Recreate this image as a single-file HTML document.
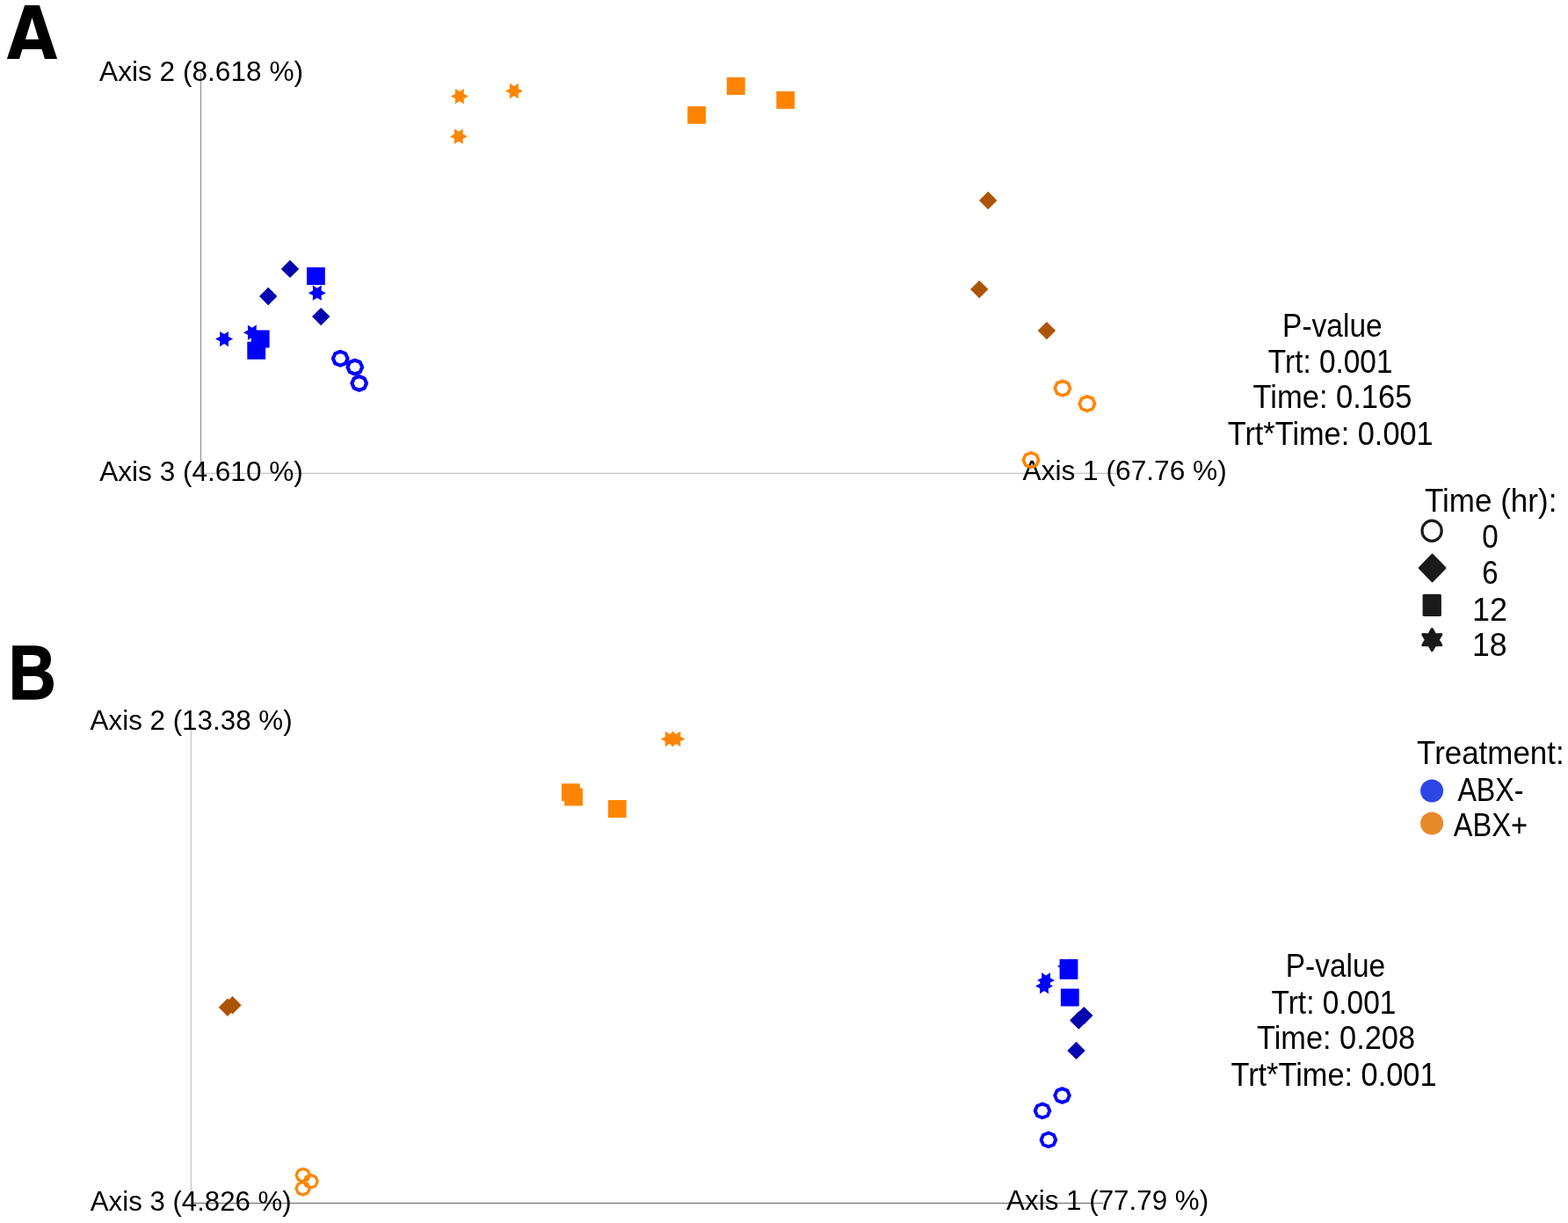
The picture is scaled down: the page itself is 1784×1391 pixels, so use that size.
<!DOCTYPE html>
<html><head><meta charset="utf-8"><title>PCoA</title>
<style>html,body{margin:0;padding:0;background:#fff;}svg{display:block;}</style></head>
<body><svg width="1784" height="1391" viewBox="0 0 1784 1391" font-family="Liberation Sans, Arial, sans-serif">
<rect width="1784" height="1391" fill="#fff"/>
<line x1="228.5" y1="83" x2="228.5" y2="538.4" stroke="#8c8c8c" stroke-width="1.1"/>
<line x1="228.5" y1="538.4" x2="1278" y2="538.4" stroke="#c4c4c4" stroke-width="1.3"/>
<line x1="217.4" y1="829" x2="217.4" y2="1368.5" stroke="#c8c8c8" stroke-width="1.5"/>
<line x1="217.4" y1="1368.5" x2="1255" y2="1368.5" stroke="#858585" stroke-width="1.4"/>
<text transform="translate(7.52 67.40) scale(0.901 1)" font-size="83.21" font-family="DejaVu Sans, sans-serif" font-weight="bold">A</text>
<text transform="translate(113.05 91.80) scale(0.989 1)" font-size="31.98">Axis 2 (8.618 %)</text>
<text transform="translate(113.21 547.10) scale(0.988 1)" font-size="31.98">Axis 3 (4.610 %)</text>
<text transform="translate(1163.53 546.40) scale(0.990 1)" font-size="31.98">Axis 1 (67.76 %)</text>
<text transform="translate(1459.05 383.10) scale(0.930 1)" font-size="36.05">P-value</text>
<text transform="translate(1442.87 423.50) scale(0.926 1)" font-size="36.05">Trt: 0.001</text>
<text transform="translate(1425.43 464.10) scale(0.958 1)" font-size="36.05">Time: 0.165</text>
<text transform="translate(1396.73 505.70) scale(0.952 1)" font-size="36.05">Trt*Time: 0.001</text>
<text transform="translate(1620.93 582.20) scale(0.972 1)" font-size="36.05">Time (hr):</text>
<text transform="translate(1686.16 623.20) scale(0.921 1)" font-size="36.05">0</text>
<text transform="translate(1686.30 664.00) scale(0.914 1)" font-size="36.05">6</text>
<text transform="translate(1674.90 705.50) scale(0.999 1)" font-size="36.05">12</text>
<text transform="translate(1674.96 746.30) scale(0.988 1)" font-size="36.05">18</text>
<text transform="translate(1612.09 869.10) scale(0.969 1)" font-size="36.05">Treatment:</text>
<text transform="translate(1658.38 910.50) scale(0.893 1)" font-size="36.05">ABX-</text>
<text transform="translate(1653.63 951.20) scale(0.905 1)" font-size="36.05">ABX+</text>
<text transform="translate(9.67 794.80) scale(0.857 1)" font-size="87.30" font-weight="bold" stroke="#000" stroke-width="1.4">B</text>
<text transform="translate(102.60 830.00) scale(0.981 1)" font-size="31.98">Axis 2 (13.38 %)</text>
<text transform="translate(102.81 1376.50) scale(0.976 1)" font-size="31.98">Axis 3 (4.826 %)</text>
<text transform="translate(1145.12 1376.40) scale(0.981 1)" font-size="31.98">Axis 1 (77.79 %)</text>
<text transform="translate(1462.76 1110.90) scale(0.928 1)" font-size="36.05">P-value</text>
<text transform="translate(1446.56 1152.50) scale(0.927 1)" font-size="36.05">Trt: 0.001</text>
<text transform="translate(1429.97 1193.40) scale(0.953 1)" font-size="36.05">Time: 0.208</text>
<text transform="translate(1400.44 1235.00) scale(0.953 1)" font-size="36.05">Trt*Time: 0.001</text>
<polygon points="532.90,109.60 527.66,106.85 527.90,100.94 522.90,104.10 517.90,100.94 518.14,106.85 512.90,109.60 518.14,112.35 517.90,118.26 522.90,115.10 527.90,118.26 527.66,112.35" fill="#ff8500"/>
<polygon points="594.90,103.50 589.66,100.75 589.90,94.84 584.90,98.00 579.90,94.84 580.14,100.75 574.90,103.50 580.14,106.25 579.90,112.16 584.90,109.00 589.90,112.16 589.66,106.25" fill="#ff8500"/>
<polygon points="531.80,155.20 526.56,152.45 526.80,146.54 521.80,149.70 516.80,146.54 517.04,152.45 511.80,155.20 517.04,157.95 516.80,163.86 521.80,160.70 526.80,163.86 526.56,157.95" fill="#ff8500"/>
<rect x="782.20" y="120.80" width="20.80" height="20.00" fill="#ff8500"/>
<rect x="826.90" y="87.90" width="20.80" height="20.00" fill="#ff8500"/>
<rect x="883.30" y="103.80" width="20.80" height="20.00" fill="#ff8500"/>
<polygon points="1124.20,217.80 1134.40,228.00 1124.20,238.20 1114.00,228.00" fill="#ad5404"/>
<polygon points="1114.20,318.90 1124.40,329.10 1114.20,339.30 1104.00,329.10" fill="#ad5404"/>
<polygon points="1190.90,365.90 1201.10,376.10 1190.90,386.30 1180.70,376.10" fill="#ad5404"/>
<polygon points="1217.64,441.60 1215.08,435.73 1208.90,433.30 1202.72,435.73 1200.16,441.60 1202.72,447.47 1208.90,449.90 1215.08,447.47" fill="none" stroke="#ff8500" stroke-width="3.60" stroke-linejoin="round"/>
<polygon points="1245.64,459.10 1243.08,453.23 1236.90,450.80 1230.72,453.23 1228.16,459.10 1230.72,464.97 1236.90,467.40 1243.08,464.97" fill="none" stroke="#ff8500" stroke-width="3.60" stroke-linejoin="round"/>
<polygon points="1181.74,523.20 1179.18,517.33 1173.00,514.90 1166.82,517.33 1164.26,523.20 1166.82,529.07 1173.00,531.50 1179.18,529.07" fill="none" stroke="#ff8500" stroke-width="3.60" stroke-linejoin="round"/>
<polygon points="265.05,385.60 259.81,382.85 260.05,376.94 255.05,380.10 250.05,376.94 250.29,382.85 245.05,385.60 250.29,388.35 250.05,394.26 255.05,391.10 260.05,394.26 259.81,388.35" fill="#0000ff"/>
<polygon points="296.85,378.20 291.61,375.45 291.85,369.54 286.85,372.70 281.85,369.54 282.09,375.45 276.85,378.20 282.09,380.95 281.85,386.86 286.85,383.70 291.85,386.86 291.61,380.95" fill="#0000ff"/>
<polygon points="370.80,333.20 365.56,330.45 365.80,324.54 360.80,327.70 355.80,324.54 356.04,330.45 350.80,333.20 356.04,335.95 355.80,341.86 360.80,338.70 365.80,341.86 365.56,335.95" fill="#0000ff"/>
<rect x="349.00" y="304.10" width="20.80" height="20.00" fill="#0000ff"/>
<rect x="285.80" y="375.50" width="20.80" height="20.00" fill="#0000ff"/>
<rect x="281.30" y="388.70" width="20.80" height="20.00" fill="#0000ff"/>
<polygon points="330.00,295.70 340.20,305.90 330.00,316.10 319.80,305.90" fill="#0505b0"/>
<polygon points="305.20,326.80 315.40,337.00 305.20,347.20 295.00,337.00" fill="#0505b0"/>
<polygon points="365.20,349.90 375.40,360.10 365.20,370.30 355.00,360.10" fill="#0505b0"/>
<polygon points="395.52,407.80 393.09,402.21 387.20,399.89 381.31,402.21 378.88,407.80 381.31,413.39 387.20,415.71 393.09,413.39" fill="none" stroke="#0000ff" stroke-width="4.10" stroke-linejoin="round"/>
<polygon points="412.12,417.60 409.69,412.01 403.80,409.69 397.91,412.01 395.48,417.60 397.91,423.19 403.80,425.51 409.69,423.19" fill="none" stroke="#0000ff" stroke-width="4.10" stroke-linejoin="round"/>
<polygon points="417.02,435.90 414.59,430.31 408.70,427.99 402.81,430.31 400.38,435.90 402.81,441.49 408.70,443.81 414.59,441.49" fill="none" stroke="#0000ff" stroke-width="4.10" stroke-linejoin="round"/>
<ellipse cx="1629.1" cy="603.7" rx="11.1" ry="11.6" fill="none" stroke="#1a1a1a" stroke-width="3.2"/>
<polygon points="1629.6,631.1 1644.0,646.0 1629.6,660.9 1615.2,646.0" fill="#1a1a1a" stroke="#1a1a1a" stroke-width="2.8" stroke-linejoin="round"/>
<rect x="1618.6" y="675.7" width="21.3" height="25.3" rx="1.6" fill="#1a1a1a"/>
<path d="M1629.30,715.70 Q1627.58,718.49 1626.00,721.98 Q1622.18,721.61 1618.91,721.70 Q1620.46,724.58 1622.70,727.70 Q1620.46,730.82 1618.91,733.70 Q1622.18,733.79 1626.00,733.42 Q1627.58,736.91 1629.30,739.70 Q1631.02,736.91 1632.60,733.42 Q1636.42,733.79 1639.69,733.70 Q1638.14,730.82 1635.90,727.70 Q1638.14,724.58 1639.69,721.70 Q1636.42,721.61 1632.60,721.98 Q1631.02,718.49 1629.30,715.70Z" fill="#1a1a1a" stroke="#1a1a1a" stroke-width="3.20" stroke-linejoin="round"/>
<circle cx="1629.1" cy="899.5" r="13" fill="#2d46e6"/>
<circle cx="1629.1" cy="936.5" r="13" fill="#e8892a"/>
<polygon points="771.70,840.50 766.46,837.75 766.70,831.84 761.70,835.00 756.70,831.84 756.94,837.75 751.70,840.50 756.94,843.25 756.70,849.16 761.70,846.00 766.70,849.16 766.46,843.25" fill="#ff8500"/>
<polygon points="779.40,840.50 774.16,837.75 774.40,831.84 769.40,835.00 764.40,831.84 764.64,837.75 759.40,840.50 764.64,843.25 764.40,849.16 769.40,846.00 774.40,849.16 774.16,843.25" fill="#ff8500"/>
<rect x="639.00" y="891.20" width="20.80" height="20.00" fill="#ff8500"/>
<rect x="642.20" y="896.50" width="20.80" height="20.00" fill="#ff8500"/>
<rect x="691.80" y="910.00" width="20.80" height="20.00" fill="#ff8500"/>
<polygon points="258.90,1135.60 269.10,1145.80 258.90,1156.00 248.70,1145.80" fill="#ad5404"/>
<polygon points="264.50,1133.10 274.70,1143.30 264.50,1153.50 254.30,1143.30" fill="#ad5404"/>
<polygon points="352.50,1336.60 350.24,1331.43 344.80,1329.29 339.36,1331.43 337.10,1336.60 339.36,1341.77 344.80,1343.91 350.24,1341.77" fill="none" stroke="#ff8500" stroke-width="3.20" stroke-linejoin="round"/>
<polygon points="361.30,1343.70 359.04,1338.53 353.60,1336.39 348.16,1338.53 345.90,1343.70 348.16,1348.87 353.60,1351.01 359.04,1348.87" fill="none" stroke="#ff8500" stroke-width="3.20" stroke-linejoin="round"/>
<polygon points="352.30,1351.80 350.04,1346.63 344.60,1344.49 339.16,1346.63 336.90,1351.80 339.16,1356.97 344.60,1359.11 350.04,1356.97" fill="none" stroke="#ff8500" stroke-width="3.20" stroke-linejoin="round"/>
<polygon points="1223.00,1099.00 1217.76,1096.25 1218.00,1090.34 1213.00,1093.50 1208.00,1090.34 1208.24,1096.25 1203.00,1099.00 1208.24,1101.75 1208.00,1107.66 1213.00,1104.50 1218.00,1107.66 1217.76,1101.75" fill="#0000ff"/>
<polygon points="1200.00,1115.00 1194.76,1112.25 1195.00,1106.34 1190.00,1109.50 1185.00,1106.34 1185.24,1112.25 1180.00,1115.00 1185.24,1117.75 1185.00,1123.66 1190.00,1120.50 1195.00,1123.66 1194.76,1117.75" fill="#0000ff"/>
<polygon points="1198.00,1121.60 1192.76,1118.85 1193.00,1112.94 1188.00,1116.10 1183.00,1112.94 1183.24,1118.85 1178.00,1121.60 1183.24,1124.35 1183.00,1130.26 1188.00,1127.10 1193.00,1130.26 1192.76,1124.35" fill="#0000ff"/>
<rect x="1205.6" y="1091" width="20.8" height="22.8" fill="#0000ff"/>
<rect x="1206.90" y="1124.50" width="20.80" height="20.00" fill="#0000ff"/>
<polygon points="1233.30,1144.90 1243.50,1155.10 1233.30,1165.30 1223.10,1155.10" fill="#0505b0"/>
<polygon points="1227.30,1150.30 1237.50,1160.50 1227.30,1170.70 1217.10,1160.50" fill="#0505b0"/>
<polygon points="1224.50,1184.70 1234.70,1194.90 1224.50,1205.10 1214.30,1194.90" fill="#0505b0"/>
<polygon points="1216.82,1246.00 1214.39,1240.41 1208.50,1238.09 1202.61,1240.41 1200.18,1246.00 1202.61,1251.59 1208.50,1253.91 1214.39,1251.59" fill="none" stroke="#0000ff" stroke-width="3.90" stroke-linejoin="round"/>
<polygon points="1194.32,1263.40 1191.89,1257.81 1186.00,1255.49 1180.11,1257.81 1177.68,1263.40 1180.11,1268.99 1186.00,1271.31 1191.89,1268.99" fill="none" stroke="#0000ff" stroke-width="3.90" stroke-linejoin="round"/>
<polygon points="1201.22,1296.40 1198.79,1290.81 1192.90,1288.49 1187.01,1290.81 1184.58,1296.40 1187.01,1301.99 1192.90,1304.31 1198.79,1301.99" fill="none" stroke="#0000ff" stroke-width="3.90" stroke-linejoin="round"/>
</svg></body></html>
